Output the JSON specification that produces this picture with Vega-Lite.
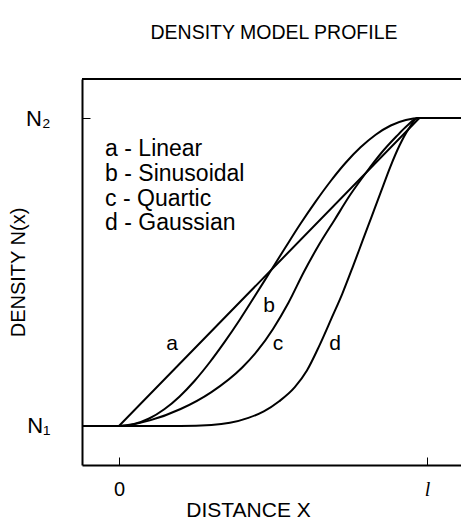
{
  "$schema": "https://vega.github.io/schema/vega-lite/v6.json",
  "width": 379,
  "height": 386,
  "autosize": "none",
  "padding": {"left": 82, "top": 79, "right": 0, "bottom": 64},
  "config": {"view": {"stroke": null}, "font": "Liberation Sans"},
  "title": {"text": "DENSITY MODEL PROFILE", "fontSize": 19.5, "fontWeight": "normal", "font": "Liberation Sans", "color": "black", "anchor": "middle", "frame": "group", "offset": 20, "baseline": "alphabetic", "dx": 2.5},
  "datasets": {
    "lin": [
      {"x": -0.12, "y": 0}, {"x": 0, "y": 0}, {"x": 0.975, "y": 1}, {"x": 1.11, "y": 1}
    ],
    "curves": [
      {"c": "b", "x": -0.12, "y": 0}, {"c": "b", "x": 0, "y": 0}, {"c": "b", "x": 0.049, "y": 0.006}, {"c": "b", "x": 0.098, "y": 0.024}, {"c": "b", "x": 0.147, "y": 0.054}, {"c": "b", "x": 0.196, "y": 0.095}, {"c": "b", "x": 0.245, "y": 0.146}, {"c": "b", "x": 0.294, "y": 0.206}, {"c": "b", "x": 0.343, "y": 0.273}, {"c": "b", "x": 0.392, "y": 0.345}, {"c": "b", "x": 0.441, "y": 0.422}, {"c": "b", "x": 0.49, "y": 0.5}, {"c": "b", "x": 0.539, "y": 0.578}, {"c": "b", "x": 0.588, "y": 0.655}, {"c": "b", "x": 0.637, "y": 0.727}, {"c": "b", "x": 0.686, "y": 0.794}, {"c": "b", "x": 0.735, "y": 0.854}, {"c": "b", "x": 0.784, "y": 0.905}, {"c": "b", "x": 0.833, "y": 0.946}, {"c": "b", "x": 0.882, "y": 0.976}, {"c": "b", "x": 0.931, "y": 0.994}, {"c": "b", "x": 0.98, "y": 1}, {"c": "b", "x": 1.11, "y": 1},
      {"c": "c", "x": -0.12, "y": 0}, {"c": "c", "x": 0, "y": 0}, {"c": "c", "x": 0.1, "y": 0.018}, {"c": "c", "x": 0.2, "y": 0.055}, {"c": "c", "x": 0.3, "y": 0.11}, {"c": "c", "x": 0.4, "y": 0.19}, {"c": "c", "x": 0.45, "y": 0.245}, {"c": "c", "x": 0.5, "y": 0.315}, {"c": "c", "x": 0.55, "y": 0.4}, {"c": "c", "x": 0.6, "y": 0.5}, {"c": "c", "x": 0.65, "y": 0.59}, {"c": "c", "x": 0.7, "y": 0.67}, {"c": "c", "x": 0.75, "y": 0.75}, {"c": "c", "x": 0.8, "y": 0.82}, {"c": "c", "x": 0.85, "y": 0.885}, {"c": "c", "x": 0.9, "y": 0.94}, {"c": "c", "x": 0.935, "y": 0.975}, {"c": "c", "x": 0.97, "y": 1}, {"c": "c", "x": 1.11, "y": 1},
      {"c": "d", "x": -0.12, "y": 0}, {"c": "d", "x": 0, "y": 0}, {"c": "d", "x": 0.2, "y": 0}, {"c": "d", "x": 0.3, "y": 0.003}, {"c": "d", "x": 0.36, "y": 0.01}, {"c": "d", "x": 0.42, "y": 0.026}, {"c": "d", "x": 0.47, "y": 0.047}, {"c": "d", "x": 0.52, "y": 0.08}, {"c": "d", "x": 0.57, "y": 0.125}, {"c": "d", "x": 0.61, "y": 0.18}, {"c": "d", "x": 0.65, "y": 0.26}, {"c": "d", "x": 0.69, "y": 0.35}, {"c": "d", "x": 0.725, "y": 0.43}, {"c": "d", "x": 0.76, "y": 0.52}, {"c": "d", "x": 0.79, "y": 0.6}, {"c": "d", "x": 0.82, "y": 0.68}, {"c": "d", "x": 0.85, "y": 0.76}, {"c": "d", "x": 0.88, "y": 0.84}, {"c": "d", "x": 0.91, "y": 0.91}, {"c": "d", "x": 0.94, "y": 0.965}, {"c": "d", "x": 0.97, "y": 1}, {"c": "d", "x": 1.11, "y": 1}
    ],
    "labels": [
      {"t": "a", "x": 0.172, "y": 0.247},
      {"t": "b", "x": 0.487, "y": 0.37},
      {"t": "c", "x": 0.516, "y": 0.247},
      {"t": "d", "x": 0.701, "y": 0.247}
    ],
    "legend": [
      {"t": "a - Linear", "x": -0.045, "y": 0.877},
      {"t": "b - Sinusoidal", "x": -0.045, "y": 0.795},
      {"t": "c - Quartic", "x": -0.045, "y": 0.714},
      {"t": "d - Gaussian", "x": -0.045, "y": 0.636}
    ]
  },
  "layer": [
    {
      "data": {"name": "lin"},
      "mark": {"type": "line", "color": "black", "strokeWidth": 2, "clip": true},
      "encoding": {
        "x": {"field": "x", "type": "quantitative", "scale": {"domain": [-0.12, 1.11], "nice": false, "zero": false},
          "axis": {"values": [0, 1], "title": "DISTANCE X", "titleFontSize": 21, "titleFontWeight": "normal", "titleColor": "black",
            "titleX": 166, "titleY": 45, "titleBaseline": "middle", "titleAnchor": "middle",
            "labelExpr": "datum.value == 0 ? '0' : 'l'", "labelFontSize": 20, "labelColor": "black", "labelPadding": 22,
            "labelFont": {"condition": {"test": "datum.value == 1", "value": "Liberation Serif"}, "value": "Liberation Sans"},
            "labelFontStyle": {"condition": {"test": "datum.value == 1", "value": "italic"}, "value": "normal"},
            "tickSize": -8, "tickColor": "black", "tickWidth": 1, "domainColor": "black", "domainWidth": 2, "grid": false}},
        "y": {"field": "y", "type": "quantitative", "scale": {"domain": [-0.127, 1.127], "nice": false, "zero": false},
          "axis": {"values": [0, 1], "title": "DENSITY N(x)", "titleFontSize": 20, "titleFontWeight": "normal", "titleColor": "black",
            "titleX": -64, "titleY": 193, "titleBaseline": "middle", "titleAnchor": "middle", "titleAngle": -90,
            "labelExpr": "datum.value == 0 ? 'N₁' : 'N₂'", "labelFontSize": 22, "labelColor": "black", "labelPadding": 40,
            "tickSize": -8, "tickColor": "black", "tickWidth": 1, "domainColor": "black", "domainWidth": 2, "grid": false}}
      }
    },
    {
      "data": {"name": "curves"},
      "mark": {"type": "line", "color": "black", "strokeWidth": 2, "interpolate": "monotone", "clip": true},
      "encoding": {
        "x": {"field": "x", "type": "quantitative"},
        "y": {"field": "y", "type": "quantitative"},
        "detail": {"field": "c"}
      }
    },
    {
      "data": {"values": [{"top": 1.127}]},
      "mark": {"type": "rule", "color": "black", "strokeWidth": 2},
      "encoding": {"y": {"field": "top", "type": "quantitative"}}
    },
    {
      "data": {"name": "labels"},
      "mark": {"type": "text", "fontSize": 21, "align": "center", "baseline": "alphabetic", "color": "black"},
      "encoding": {
        "x": {"field": "x", "type": "quantitative"},
        "y": {"field": "y", "type": "quantitative"},
        "text": {"field": "t"}
      }
    },
    {
      "data": {"name": "legend"},
      "mark": {"type": "text", "fontSize": 23, "align": "left", "baseline": "alphabetic", "color": "black"},
      "encoding": {
        "x": {"field": "x", "type": "quantitative"},
        "y": {"field": "y", "type": "quantitative"},
        "text": {"field": "t"}
      }
    }
  ]
}
